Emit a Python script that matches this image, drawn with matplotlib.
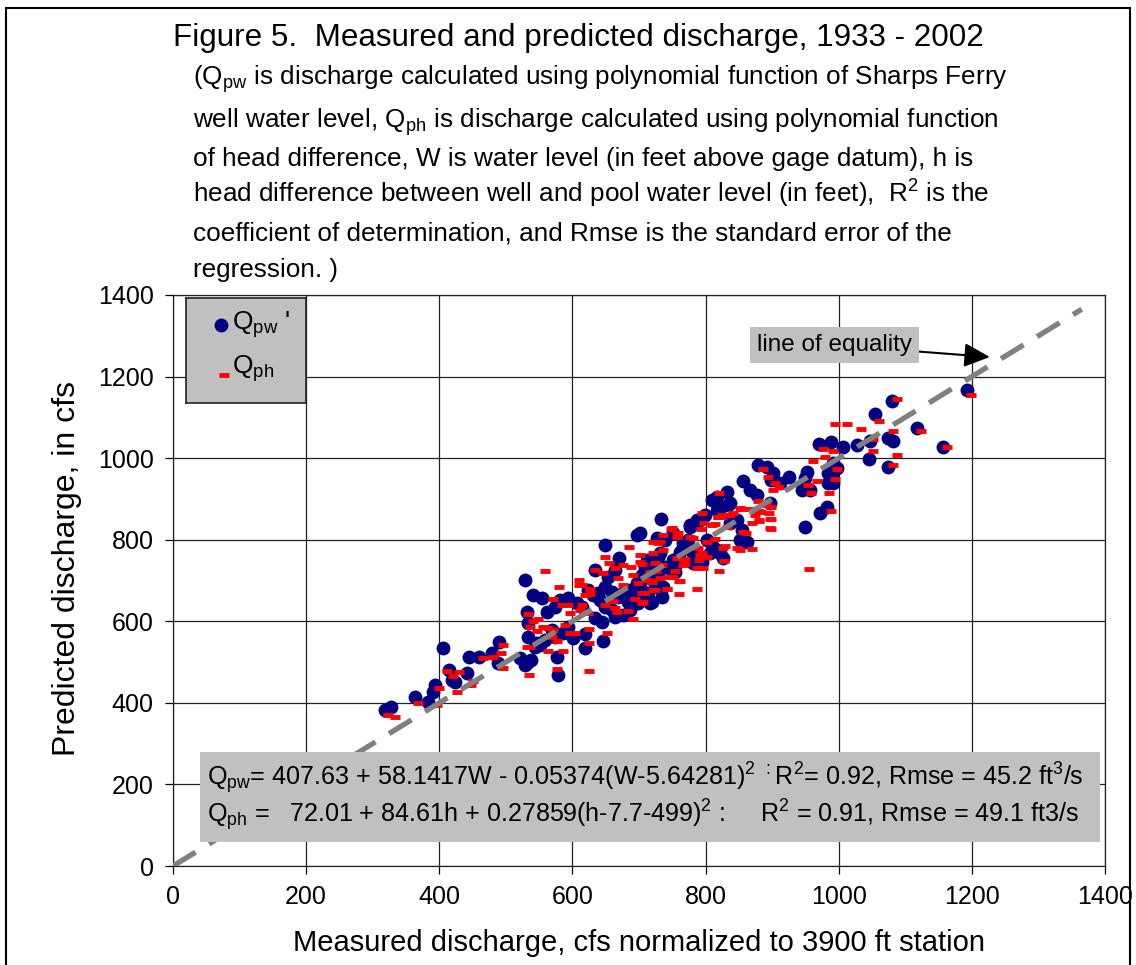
import matplotlib
matplotlib.use("Agg")
import matplotlib.pyplot as plt
from matplotlib import font_manager as fm
from matplotlib.patches import Rectangle

names = {f.name for f in fm.fontManager.ttflist}
NARROW = "Liberation Sans Narrow" if "Liberation Sans Narrow" in names else "Liberation Sans"
REG = "Liberation Sans"
plt.rcParams['mathtext.default'] = 'regular'

# ---- data (measured, predicted) ----
qpw_x = [318,328,364,383,391,394,405,415,419,424,441,445,460,479,490,488,521,532,529,541,554,532,562,533,547,577,578,619,646,634,649,697,670,
         533,529,538,544,551,574,581,593,607,614,619,623,631,593,601,586,641,649,659,664,676,687,676,687,697,698,716,705,720,728,653,664,634,644,569,574,559,
         733,701,727,739,777,787,799,810,822,834,837,847,855,852,862,822,826,811,817,787,795,781,766,773,762,757,750,739,729,720,709,736,720,701,701,706,716,724,
         1193,1080,1055,1118,1074,1082,1157,1046,1074,1006,1027,1047,970,988,991,997,984,991,952,946,972,982,949,879,892,901,899,925,856,817,832,867,877,837,897,817,754,
         949,957,945,912,984,990,
         751,777,792,766,802,781,807,731,712,751,721,706,714,728,735,668,683,649,639,659,709]
qpw_y = [382,390,415,402,427,444,534,480,456,451,473,512,512,522,549,498,510,498,701,664,657,623,623,561,547,512,468,534,552,726,787,811,755,
         596,493,505,537,542,635,652,657,645,635,569,677,664,586,559,571,652,635,628,610,615,628,669,677,694,645,645,713,726,718,708,726,608,598,579,561,554,
         851,816,804,799,836,848,860,897,878,885,841,848,824,799,794,767,755,782,775,758,745,743,792,799,770,743,726,733,758,745,733,684,647,659,684,708,706,694,
         1167,1140,1108,1074,1049,1042,1027,998,978,1027,1032,1042,1035,1040,988,976,939,939,966,927,865,880,831,983,978,963,946,954,944,905,917,922,910,890,890,873,721,
         951,922,922,939,963,954,
         816,831,848,782,799,767,767,767,750,750,701,669,669,684,659,659,647,684,669,672,738]

qph_x = [323,333,368,396,400,412,420,426,430,448,451,466,480,496,493,496,559,580,571,535,536,537,577,586,625,652,610,610,649,685,
         533,541,548,547,556,563,571,569,577,563,532,626,619,626,614,584,593,614,596,611,623,589,596,604,634,646,655,664,649,661,664,667,683,691,691,698,668,676,720,724,705,694,676,688,705,724,735,625,625,
         1199,1088,1061,994,1012,1033,1082,1124,1052,1052,1088,1163,1082,976,991,979,961,997,994,967,954,958,985,988,955,886,894,904,910,901,820,879,892,899,880,895,898,898,870,880,855,841,825,819,832,814,797,856,860,829,826,847,852,870,814,828,820,787,760,760,748,757,757,736,777,781,793,789,795,790,796,766,769,742,751,
         795,810,818,824,837,852,867,874,884,881,897,897,802,792,802,787,762,744,766,769,757,754,736,731,721,729,750,759,721,716,726,731,712,720,721,742,705,709,706,701,701]
qph_y = [370,365,400,395,436,478,466,427,476,444,453,510,512,542,522,485,723,684,654,468,537,586,483,527,478,571,701,689,757,782,
         618,601,606,576,586,583,579,561,552,527,537,679,664,667,689,640,640,640,620,628,620,591,571,571,726,718,743,730,640,650,632,623,625,606,713,694,706,689,699,677,645,655,738,733,740,743,738,547,581,
         1155,1145,1091,1083,1083,1071,1066,1066,1047,1017,1008,1027,983,1022,1017,1003,993,973,949,944,934,914,914,870,728,973,954,939,929,922,914,895,885,880,870,865,851,826,841,846,875,865,860,856,831,838,841,819,816,784,779,779,775,777,802,748,723,679,667,699,826,816,807,811,807,804,826,779,767,750,731,753,740,679,708,
         865,836,856,856,860,877,875,860,868,848,851,829,794,762,758,731,699,708,738,753,755,723,775,794,794,792,829,816,767,721,723,706,701,696,677,679,669,669,647,762,745]

equality = [0, 1365]
x_ticks = [0, 200, 400, 600, 800, 1000, 1200, 1400]
y_ticks = [0, 200, 400, 600, 800, 1000, 1200, 1400]

W, H = 1136, 965
fig = plt.figure(figsize=(W/100, H/100), dpi=100)
def fx(px): return px / W
def fy(py): return 1 - py / H

ax = fig.add_axes([fx(173), fy(866), fx(1105) - fx(173), fy(295) - fy(866)])
ax.set_xlim(0, 1400)
ax.set_ylim(0, 1400)
ax.set_xticks(x_ticks)
ax.set_yticks(y_ticks)
ax.grid(True, color='#222222', lw=0.9)
ax.set_axisbelow(True)
for s in ax.spines.values():
    s.set_color('#222222'); s.set_linewidth(0.9)
ax.tick_params(direction='out', length=6, width=0.9, labelsize=18, pad=8)
for lab in ax.get_xticklabels() + ax.get_yticklabels():
    lab.set_fontfamily(REG)

ax.scatter(qpw_x, qpw_y, s=100, color='#000080', zorder=3, linewidths=0)
ax.plot(qph_x, qph_y, ls='none', marker='_', ms=7, mew=3.5, color='#ff0000', zorder=4)
ln, = ax.plot(equality, equality, color='#808080', lw=3.8, zorder=5, solid_capstyle='butt', dash_capstyle='butt')
ln.set_dashes((5.0, 3.0))

ax.set_xlabel('Measured discharge, cfs normalized to 3900 ft station', fontsize=21, family=REG, labelpad=14)
ax.set_ylabel('Predicted discharge, in cfs', fontsize=23, family=REG)
ax.yaxis.set_label_coords(-0.0976, 0.521)

# line of equality annotation
ax.annotate('line of equality', xy=(1227, 1248), xytext=(1110, 1277), fontsize=17.5, family=REG,
            ha='right', va='center',
            bbox=dict(boxstyle='square,pad=0.3', fc='#c0c0c0', ec='none'),
            arrowprops=dict(arrowstyle='-|>,head_length=0.9,head_width=0.42', color='black', lw=1.5,
                            shrinkA=0, shrinkB=0), zorder=6)

# legend
leg_ax = fig.add_axes([fx(186), fy(403), fx(306) - fx(186), fy(298) - fy(403)], zorder=12)
leg_ax.set_facecolor('#c0c0c0')
leg_ax.set_xlim(0, 120); leg_ax.set_ylim(105, 0)
leg_ax.set_xticks([]); leg_ax.set_yticks([])
for s in leg_ax.spines.values():
    s.set_color('#222222'); s.set_linewidth(1.2)
leg_ax.scatter([35], [27], s=100, color='#000080', linewidths=0)
leg_ax.plot([38], [77], ls='none', marker='_', ms=7, mew=3.5, color='#ff0000')
leg_ax.text(46, 27, "Q$_{pw}$ '", fontsize=19, family=REG, va='center')
leg_ax.text(46, 71, "Q$_{ph}$", fontsize=19, family=REG, va='center')

# equation box
fig.patches.append(Rectangle((fx(200), fy(842)), fx(1100) - fx(200), fy(752) - fy(842),
                             transform=fig.transFigure, fc='#c0c0c0', ec='none', zorder=10))
fig.text(fx(207), fy(785), "Q$_{pw}$= 407.63 + 58.1417W - 0.05374(W-5.64281)$^{2}$ $^{:}$R$^{2}$= 0.92, Rmse = 45.2 ft$^{3}$/s",
         fontsize=18.1, family=NARROW, va='baseline', zorder=11)
fig.text(fx(207), fy(822), "Q$_{ph}$ =   72.01 + 84.61h + 0.27859(h-7.7-499)$^{2}$ :     R$^{2}$ = 0.91, Rmse = 49.1 ft3/s",
         fontsize=18.1, family=NARROW, va='baseline', zorder=11)

# title and description
fig.text(fx(173), fy(46), "Figure 5.  Measured and predicted discharge, 1933 - 2002", fontsize=22.6, family=NARROW, va='baseline')
sub = ["(Q$_{pw}$ is discharge calculated using polynomial function of Sharps Ferry",
       "well water level, Q$_{ph}$ is discharge calculated using polynomial function",
       "of head difference, W is water level (in feet above gage datum), h is",
       "head difference between well and pool water level (in feet),  R$^{2}$ is the",
       "coefficient of determination, and Rmse is the standard error of the",
       "regression. )"]
base = [85, 128, 166, 203, 240, 277]
for t, b in zip(sub, base):
    fig.text(fx(193), fy(b), t, fontsize=18.8, family=NARROW, va='baseline')

# outer border
fig.patches.append(Rectangle((fx(6), fy(975)), fx(1130) - fx(6), fy(8) - fy(975),
                             transform=fig.transFigure, fc='none', ec='black', lw=1.5, zorder=20))

fig.savefig('out.png', dpi=100)
